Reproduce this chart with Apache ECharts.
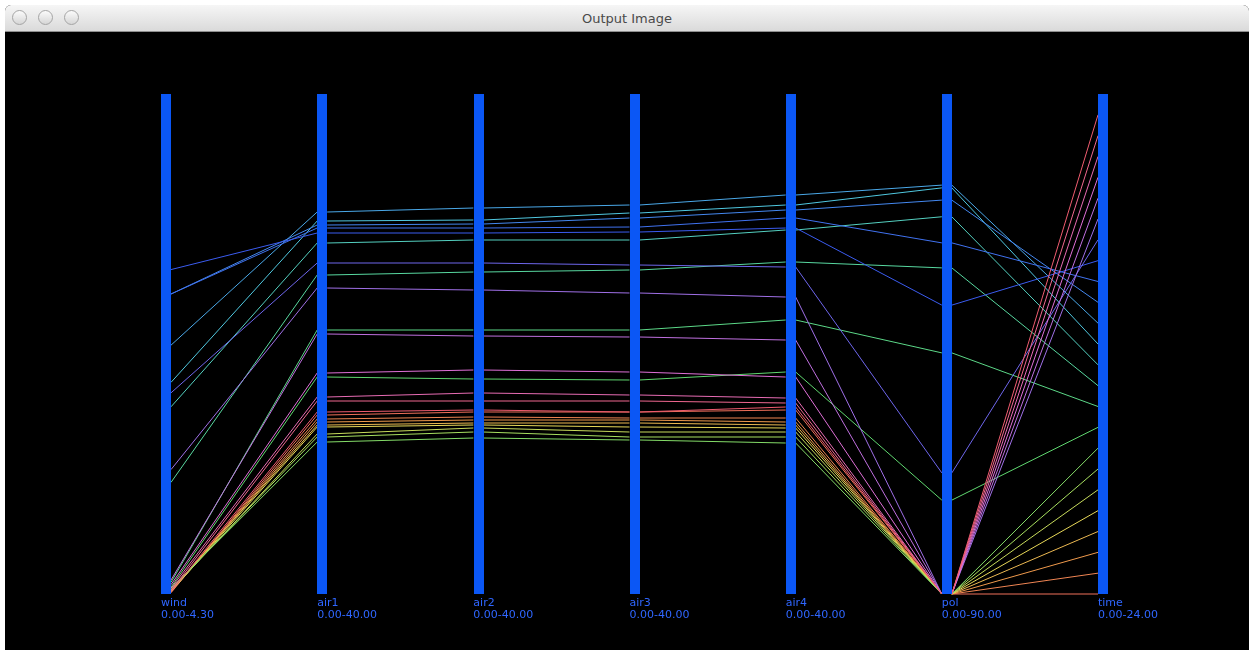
<!DOCTYPE html>
<html>
<head>
<meta charset="utf-8">
<script src="https://cdn.jsdelivr.net/npm/echarts/dist/echarts.min.js"></script>
<style>
  html, body { margin: 0; padding: 0; background: #fff; width: 1254px; height: 654px; overflow: hidden; }
  #win { position: absolute; left: 5px; top: 5px; width: 1244px; height: 645px; border-radius: 6px 6px 0 0; overflow: hidden; background: #000; }
  #bar { position: absolute; left: 0; top: 0; width: 100%; height: 26px; background: linear-gradient(#f6f6f6, #dadada);
         border-bottom: 1px solid #8e8e8e; font: 13px "DejaVu Sans", sans-serif; color: #4a4a4a; text-align: center; line-height: 27px; }
  .dot { position: absolute; top: 5px; width: 13px; height: 13px; border-radius: 50%; border: 1px solid #a4a4a4;
         background: linear-gradient(#fbfbfb, #d6d6d6); }
  #chart { position: absolute; left: 1px; top: 27px; width: 1242px; height: 616px; }
</style>
</head>
<body>
<div id="win">
  <div id="bar">Output Image
    <div class="dot" style="left:7px"></div>
    <div class="dot" style="left:33px"></div>
    <div class="dot" style="left:59px"></div>
  </div>
  <div id="chart"></div>
</div>
<script>
// Axis definitions
const dims = ['wind', 'air1', 'air2', 'air3', 'air4', 'pol', 'time'];
const rangeLabels = ['0.00-4.30', '0.00-40.00', '0.00-40.00', '0.00-40.00', '0.00-40.00', '0.00-90.00', '0.00-24.00'];
const axisMax = [4.3, 40, 40, 40, 40, 90, 24];

// One record per hour of the day
const hour = [0, 1, 2, 3, 4, 5, 6, 7, 8, 9, 10, 11, 12, 13, 14, 15, 16, 17, 18, 19, 20, 21, 22, 23];
const wind = [0.01, 0.02, 0.02, 0.03, 0.02, 0.03, 0.04, 0.05, 0.06, 0.10, 0.96, 1.61,
              1.82, 2.14, 2.58, 2.58, 2.79, 1.73, 1.07, 0.12, 0.08, 0.05, 0.03, 0.02];
const air1 = [14.32, 14.00, 13.76, 13.52, 13.36, 12.80, 12.56, 12.16, 17.36, 21.12, 25.52, 28.08,
              29.84, 30.56, 29.52, 29.28, 28.88, 26.48, 24.48, 20.80, 17.68, 15.76, 15.44, 14.56];
const air2 = [14.56, 14.16, 13.92, 13.68, 13.52, 13.28, 12.96, 12.48, 17.20, 21.12, 25.76, 28.32,
              29.92, 30.88, 29.60, 29.28, 28.88, 26.48, 24.32, 20.64, 17.92, 16.08, 15.44, 14.72];
const air3 = [14.56, 14.08, 13.92, 13.68, 13.36, 12.96, 12.56, 12.32, 17.12, 21.12, 25.92, 28.32,
              30.48, 31.12, 30.08, 29.36, 28.96, 26.32, 24.08, 20.56, 17.76, 15.92, 15.44, 14.56];
const air4 = [14.72, 14.08, 13.76, 13.52, 13.28, 12.96, 12.56, 12.08, 17.76, 21.92, 26.56, 29.12,
              31.12, 31.92, 30.72, 30.08, 29.28, 26.16, 23.76, 20.32, 17.36, 15.68, 15.28, 14.96];
const pol  = [0, 0, 0, 0, 0, 0, 0, 0, 16.9, 43.4, 58.7, 67.9,
              73.1, 73.6, 70.9, 63.2, 52.0, 21.8, 0, 0, 0, 0, 0, 0];

// Hour-of-day colour ramp
const hourColors = ['#f0705a', '#f09a4c', '#e8d858', '#a8e060', '#60d870', '#58d8a0', '#50c8e0',
                    '#4488f0', '#3b5cf0', '#a070e8', '#e070d8', '#f06890', '#f05050'];

const columns = [wind, air1, air2, air3, air4, pol, hour];

// Plot frame (px inside the chart box) and bar thickness
const frame = { left: 160, right: 145, top: 62, bottom: 54 };
const chartWidth = 1242;
const barWidth = 10;
const step = (chartWidth - frame.left - frame.right) / (dims.length - 1);

const hiddenAxis = {
  axisLine: { show: false },
  axisTick: { show: false },
  axisLabel: { show: false, formatter: () => '' },
  splitLine: { show: false },
  name: ''
};

const parallels = [];
const parallelAxes = [];
const series = [];

// Polylines are drawn segment by segment, from the edge of one bar to the edge of the next
for (let k = 0; k < dims.length - 1; k++) {
  parallels.push({
    left: frame.left + k * step + barWidth / 2,
    width: step - barWidth,
    top: frame.top,
    bottom: frame.bottom,
    parallelAxisDefault: hiddenAxis
  });
  [k, k + 1].forEach((c, j) => {
    parallelAxes.push(Object.assign({}, hiddenAxis, {
      dim: j, parallelIndex: k, min: 0, max: axisMax[c]
    }));
  });
  series.push({
    type: 'parallel',
    parallelIndex: k,
    z: 1,
    silent: true,
    lineStyle: { width: 1, opacity: 1 },
    data: hour.map((h, i) => ({
      value: [columns[k][i], columns[k + 1][i]],
      lineStyle: { color: echarts.color.lerp(h / 24, hourColors) }
    }))
  });
}

// The seven blue bars with their names and ranges
const barIndex = parallels.length;
parallels.push(Object.assign({}, frame));
dims.forEach((d, i) => {
  parallelAxes.push({
    dim: i,
    parallelIndex: barIndex,
    name: d + '\n' + rangeLabels[i],
    min: 0,
    max: axisMax[i],
    nameLocation: 'start',
    nameGap: 3,
    nameTextStyle: {
      color: '#2f66ff', fontSize: 11, fontFamily: 'DejaVu Sans', lineHeight: 12,
      align: 'left', verticalAlign: 'top', padding: [0, 0, 0, -5]
    },
    axisLine: { lineStyle: { color: '#0b57f5', width: barWidth, cap: 'butt' } },
    axisTick: { show: false },
    axisLabel: { show: false, formatter: () => '' },
    splitLine: { show: false },
    z: 10
  });
});

const chart = echarts.init(document.getElementById('chart'));
chart.setOption({
  backgroundColor: '#000',
  animation: false,
  parallel: parallels,
  parallelAxis: parallelAxes,
  series: series
});
</script>
</body>
</html>
